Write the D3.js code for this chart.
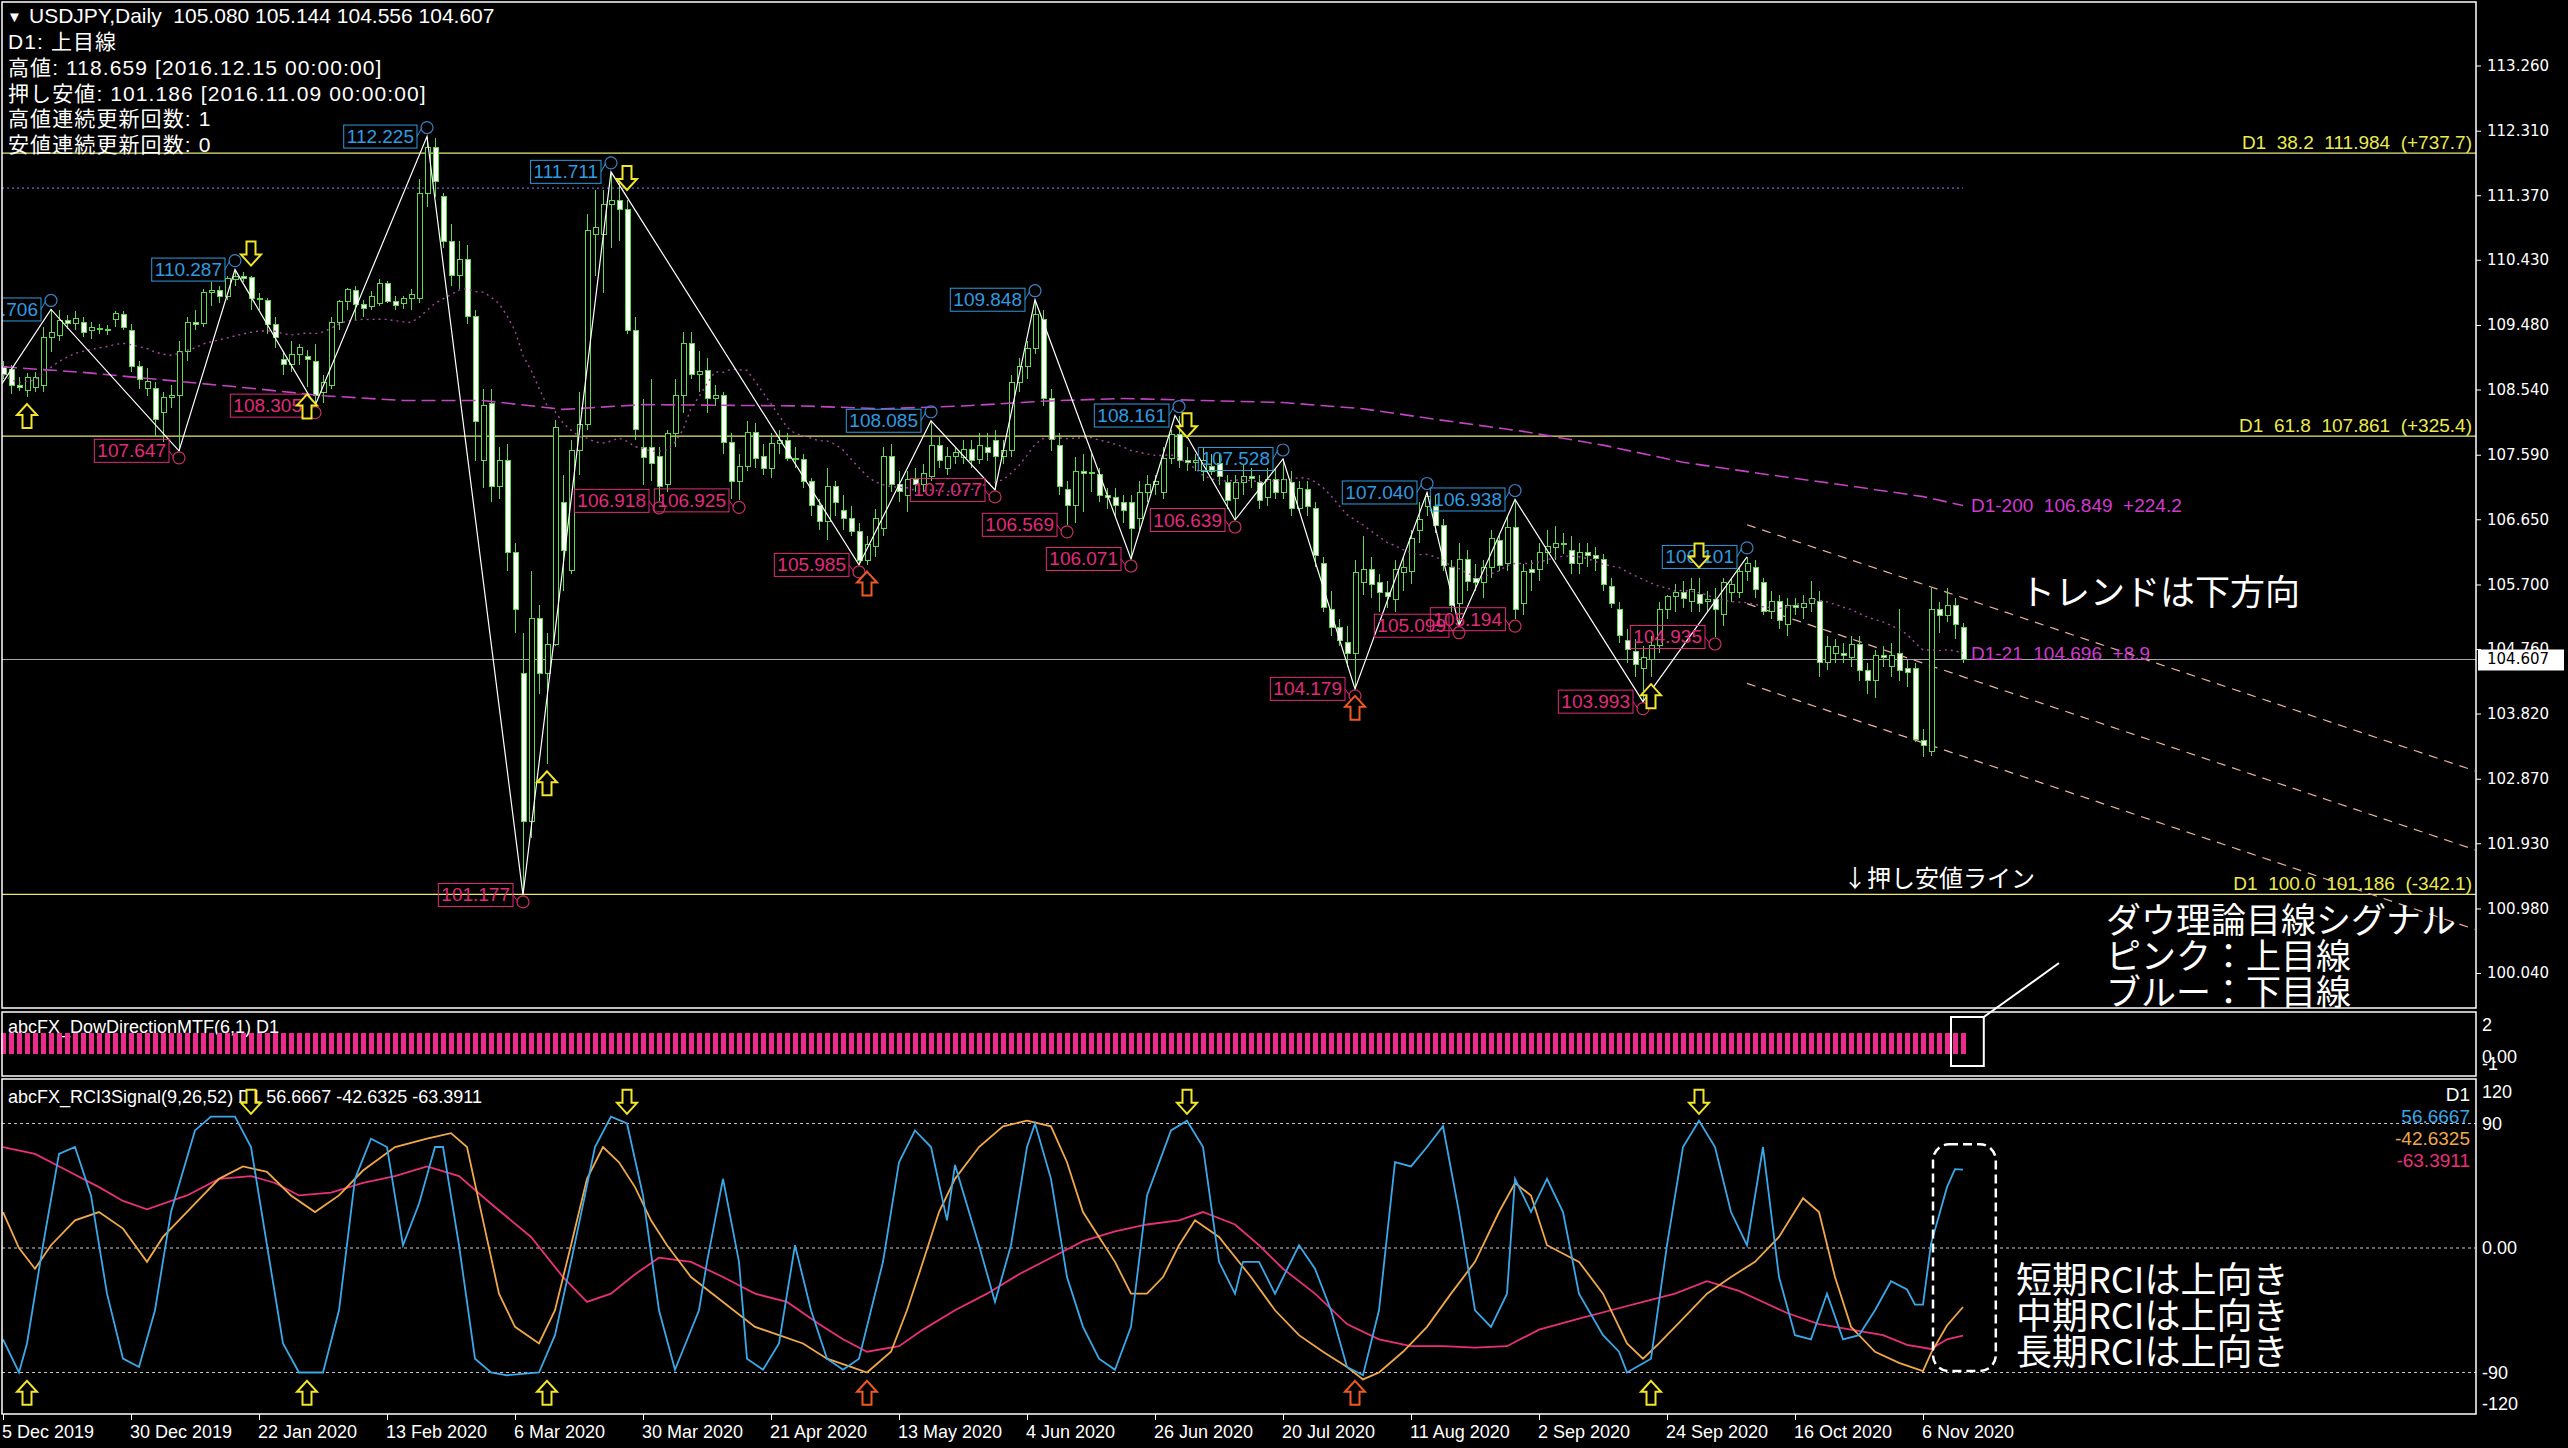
<!DOCTYPE html>
<html>
<head>
<meta charset="utf-8">
<title>USDJPY Daily</title>
<script src="https://cdn.jsdelivr.net/npm/d3@7"></script>
<style>
  html, body { margin: 0; padding: 0; background: #000; }
  svg { display: block; }
</style>
</head>
<body>
<script>
// ---- header text ----
var symbolLine = "USDJPY,Daily  105.080 105.144 104.556 104.607";
var infoLines = ["D1: 上目線", "高値: 118.659 [2016.12.15 00:00:00]", "押し安値: 101.186 [2016.11.09 00:00:00]",
                 "高値連続更新回数: 1", "安値連続更新回数: 0"];

// ---- axes ----
var priceTicks = [113.260, 112.310, 111.370, 110.430, 109.480, 108.540, 107.590, 106.650,
                  105.700, 104.760, 103.820, 102.870, 101.930, 100.980, 100.040];
var dateTickIdx = [0, 16, 32, 48, 64, 80, 96, 112, 128, 144, 160, 176, 192, 208, 224, 240];
var dateLabels = ["5 Dec 2019", "30 Dec 2019", "22 Jan 2020", "13 Feb 2020", "6 Mar 2020", "30 Mar 2020",
                  "21 Apr 2020", "13 May 2020", "4 Jun 2020", "26 Jun 2020", "20 Jul 2020", "11 Aug 2020",
                  "2 Sep 2020", "24 Sep 2020", "16 Oct 2020", "6 Nov 2020"];
var rciTicks = [120, 90, 0, -90, -120];
var rciTickLabels = ["120", "90", "0.00", "-90", "-120"];
var dowTicks = [2, 0, -1];
var dowTickLabels = ["2", "0.00", "-1"];

// ---- daily candles (bar 0 = 5 Dec 2019) ----
var opens = [
108.88,108.83,108.60,108.53,108.57,108.60,109.30,109.33,109.55,109.50,
109.52,109.40,109.42,109.41,109.56,109.63,109.40,108.87,108.55,108.56,
108.20,108.43,108.45,109.10,109.52,109.50,109.95,109.98,109.90,110.14,
110.18,110.17,109.86,109.84,109.48,108.98,108.90,109.05,109.02,108.95,
108.50,108.60,109.52,109.82,109.98,109.78,109.75,109.80,110.08,109.82,
109.80,109.86,109.86,111.39,112.07,111.35,110.70,110.20,110.43,109.60,
107.50,108.34,107.12,107.50,106.17,104.40,102.24,105.21,104.41,104.83,
106.89,105.90,107.65,108.03,110.80,110.80,111.23,111.30,111.16,109.40,
107.70,107.70,107.57,107.15,107.90,108.45,109.21,108.76,108.81,108.41,
108.45,107.77,107.20,107.42,107.92,107.57,107.39,107.76,107.80,107.54,
107.52,107.20,106.85,106.62,107.12,106.78,106.66,106.47,106.05,106.25,
106.51,107.57,107.15,107.00,107.23,107.15,107.27,107.73,107.39,107.57,
107.55,107.66,107.52,107.70,107.80,107.57,107.65,108.64,108.87,109.14,
109.56,108.41,107.73,107.08,106.85,107.35,107.32,107.30,107.00,106.96,
106.89,106.89,106.66,107.04,107.16,107.04,107.54,107.88,107.50,107.48,
107.35,107.42,107.46,107.19,106.95,107.19,107.27,107.19,106.96,107.23,
107.04,107.19,106.81,107.09,106.81,106.00,105.34,105.08,104.86,104.70,
105.73,105.92,105.73,105.59,105.48,105.87,105.89,106.48,106.84,106.84,
106.56,105.95,105.42,106.06,105.78,105.73,105.95,106.34,106.00,106.53,
105.42,105.92,105.92,106.17,106.24,106.30,106.20,106.00,106.17,106.12,
106.06,105.67,105.34,104.89,104.72,104.47,104.61,104.81,105.34,105.53,
105.58,105.45,105.56,105.45,105.48,105.26,105.59,105.59,105.89,105.95,
105.73,105.31,105.45,105.12,105.39,105.36,105.42,105.45,104.56,104.70,
104.70,104.64,104.83,104.44,104.30,104.67,104.50,104.70,104.47,104.47,
103.42,103.27,105.34,105.25,105.39,105.080];
var highs = [
108.95,108.90,108.72,108.78,108.80,109.45,109.706,109.70,109.62,109.68,
109.60,109.52,109.50,109.48,109.68,109.68,109.50,108.95,108.85,108.65,
108.50,108.60,109.25,109.60,109.70,110.00,110.10,110.05,110.20,110.287,
110.25,110.20,109.95,109.88,109.60,109.10,109.25,109.20,109.12,109.20,
108.75,109.60,109.85,110.02,110.05,109.85,109.98,110.15,110.12,109.90,
109.90,110.00,111.60,112.225,112.20,111.40,110.95,110.70,110.65,109.70,
108.55,108.55,107.70,107.75,106.30,105.00,105.90,105.40,105.00,108.10,
107.30,107.80,108.50,111.10,111.45,111.45,111.711,111.60,111.30,109.60,
108.40,108.70,107.70,107.95,108.70,109.38,109.38,109.10,109.00,108.60,
108.50,107.90,107.60,108.08,108.05,107.75,107.90,107.95,107.90,107.70,
107.60,107.25,106.95,107.40,107.20,107.00,106.85,106.60,106.40,106.80,
107.70,107.75,107.35,107.35,107.40,107.45,108.085,107.85,107.70,107.70,
107.80,107.80,107.90,107.90,107.95,107.80,108.75,109.00,109.25,109.848,
109.70,108.55,107.90,107.20,107.55,107.60,107.60,107.40,107.10,107.10,
107.00,107.00,107.20,107.30,107.30,107.70,107.95,108.161,107.70,107.60,
107.70,107.60,107.60,107.30,107.30,107.45,107.40,107.30,107.40,107.40,
107.528,107.35,107.20,107.20,106.90,106.10,105.60,105.20,105.10,106.05,
106.40,106.10,105.85,105.75,106.05,106.10,106.50,106.90,107.04,107.00,
106.65,106.05,106.30,106.20,106.00,106.05,106.50,106.45,106.70,106.938,
106.00,106.05,106.30,106.50,106.55,106.45,106.40,106.30,106.30,106.25,
106.15,105.80,105.45,105.05,104.90,104.80,104.95,105.45,105.55,105.70,
105.75,105.80,105.80,105.60,105.65,105.80,105.80,105.95,106.101,106.05,
105.80,105.60,105.55,105.50,105.50,105.55,105.75,105.60,104.95,104.90,
104.85,104.95,104.95,104.55,104.75,104.80,104.85,105.34,104.60,104.55,
103.60,105.65,105.45,105.65,105.50,105.144];
var lows = [
108.70,108.48,108.52,108.43,108.50,108.50,109.08,109.25,109.42,109.40,
109.30,109.28,109.35,109.34,109.45,109.40,108.80,108.55,108.45,107.85,
107.77,108.27,107.647,108.95,109.40,109.45,109.75,109.80,109.85,110.05,
110.10,109.70,109.70,109.35,109.15,108.75,108.80,108.90,108.57,108.305,
108.35,108.55,109.40,109.70,109.55,109.60,109.70,109.75,109.80,109.70,
109.72,109.70,109.80,111.20,111.35,110.60,110.05,110.00,109.50,107.50,
107.10,106.90,106.95,105.90,105.00,101.177,102.00,104.10,103.08,104.80,
105.60,105.85,107.30,107.95,110.20,109.95,110.60,110.70,109.35,107.80,
107.15,107.20,106.918,107.05,107.70,108.20,108.70,108.50,108.20,108.30,
107.60,106.95,106.925,107.35,107.40,107.30,107.25,107.60,107.50,107.40,
107.10,106.70,106.50,106.35,106.70,106.50,106.40,105.985,105.99,106.10,
106.40,107.05,106.90,106.75,107.05,107.05,107.20,107.40,107.30,107.45,
107.45,107.40,107.45,107.50,107.077,107.45,107.55,108.50,108.70,109.05,
108.30,107.65,107.00,106.569,106.60,106.75,107.05,106.90,106.80,106.70,
106.60,106.071,106.50,106.90,107.00,106.95,107.45,107.40,107.35,107.35,
107.20,107.30,107.15,106.80,106.639,107.00,107.10,106.80,106.85,106.95,
106.95,106.70,106.75,106.70,105.95,105.30,104.95,104.80,104.50,104.179,
105.55,105.50,105.30,105.35,105.30,105.60,105.70,106.30,106.70,106.45,
105.90,105.30,105.099,105.60,105.60,105.50,105.80,105.90,105.90,105.194,
105.25,105.60,105.75,106.00,106.05,106.15,105.85,105.85,105.95,105.90,
105.60,105.35,104.85,104.55,104.35,103.993,104.35,104.70,105.20,105.30,
105.35,105.30,105.30,105.30,104.935,105.10,105.45,105.50,105.75,105.50,
105.25,105.20,105.05,104.95,105.25,105.20,105.30,104.35,104.45,104.55,
104.55,104.50,104.30,104.10,104.05,104.50,104.35,104.30,104.20,103.40,
103.18,103.20,105.00,105.15,104.90,104.556];
var closes = [
108.76,108.60,108.57,108.72,108.72,109.30,109.37,109.55,109.50,109.58,
109.37,109.45,109.43,109.40,109.64,109.44,108.87,108.68,108.66,108.11,
108.43,108.45,109.10,109.52,109.48,109.95,109.98,109.90,110.15,110.18,
110.15,109.86,109.85,109.48,109.30,108.90,109.05,109.15,108.98,108.45,
108.64,109.52,109.82,110.00,109.78,109.72,109.90,110.08,109.82,109.76,
109.86,109.92,111.39,112.07,111.57,110.70,110.20,110.43,109.60,108.07,
108.30,107.12,107.50,106.17,105.33,102.24,105.21,104.41,104.83,107.99,
106.20,107.65,108.03,110.85,110.90,111.23,111.30,111.16,109.40,107.96,
107.55,107.46,107.12,107.90,108.45,109.21,108.76,108.80,108.41,108.45,
107.77,107.20,107.42,107.92,107.54,107.39,107.76,107.80,107.54,107.52,
107.20,106.85,106.62,107.12,106.89,106.66,106.47,106.05,106.28,106.66,
107.57,107.15,107.05,107.23,107.15,107.31,107.73,107.50,107.57,107.62,
107.66,107.50,107.73,107.62,107.57,107.65,108.64,108.87,109.14,109.63,
108.41,107.81,107.12,106.85,107.35,107.32,107.33,107.00,106.96,106.85,
106.78,106.51,107.04,107.16,107.20,107.54,107.88,107.50,107.48,107.50,
107.50,107.35,107.27,106.93,107.19,107.27,107.25,106.93,107.23,107.04,
107.23,106.81,107.10,106.84,106.12,105.36,105.08,104.89,104.70,105.87,
105.92,105.70,105.59,105.53,105.92,105.95,106.37,106.64,106.98,106.56,
105.98,105.39,106.06,105.75,105.73,105.95,106.37,105.98,106.53,105.34,
105.89,105.87,106.17,106.25,106.30,106.28,106.00,106.17,106.12,106.08,
105.70,105.42,104.95,104.75,104.53,104.64,104.81,105.34,105.53,105.58,
105.50,105.62,105.42,105.48,105.34,105.73,105.70,105.89,106.00,105.62,
105.31,105.45,105.17,105.39,105.36,105.42,105.50,104.56,104.80,104.80,
104.67,104.83,104.44,104.30,104.67,104.64,104.67,104.44,104.42,103.44,
103.36,105.34,105.25,105.39,105.12,104.607];

// 200-day MA [bar, price]
var ma200Pts = [[0,108.87],[10,108.79],[20,108.68],[30,108.57],[40,108.45],[50,108.38],[60,108.38],
                [70,108.25],[80,108.32],[90,108.31],[100,108.30],[110,108.26],[120,108.30],[130,108.37],
                [140,108.41],[150,108.38],[160,108.35],[170,108.26],[180,108.09],[190,107.93],[200,107.73],
                [210,107.48],[220,107.31],[230,107.15],[240,106.98],[245,106.85]];
var ma21Period = 21;

// zigzag swing points [bar, price]
var zigzag = [[-1,108.47],[6,109.706],[22,107.647],[29,110.287],[39,108.305],[53,112.225],[65,101.177],
              [76,111.711],[107,105.985],[116,108.085],[124,107.077],[129,109.848],[141,106.071],
              [146.5,108.161],[154,106.639],[160,107.528],[169,104.179],[178,107.040],[182,105.099],
              [189,106.938],[205,103.993],[218,106.101]];
var swingHighs = [[6,109.706],[29,110.287],[53,112.225],[76,111.711],[116,108.085],[129,109.848],
                  [147,108.161],[160,107.528],[178,107.040],[189,106.938],[218,106.101]];
var swingLows = [[22,107.647],[39,108.305],[65,101.177],[82,106.918],[92,106.925],[107,105.985],
                 [124,107.077],[133,106.569],[141,106.071],[154,106.639],[169,104.179],[182,105.099],
                 [189,105.194],[205,103.993],[214,104.935]];

// signal arrows
var upArrows = [[3,"y"],[38,"y"],[68,"y"],[108,"o"],[169,"o"],[206,"y"]];
var downArrows = [[31,"y"],[78,"y"],[148,"y"],[212,"y"]];

// fibonacci / level lines
var fibLevels = [111.984, 107.861, 101.186];
var fibLabels = ["D1  38.2  111.984  (+737.7)", "D1  61.8  107.861  (+325.4)", "D1  100.0  101.186  (-342.1)"];
var prevHighLevel = 111.475;
var lastPrice = 104.607;

// downward channel: start bar, prices at start bar, slope per bar
var channelStart = 218;
var channelPrices = [106.57, 105.42, 104.26];
var channelSlope = -0.0394;

// Dow direction (runs of bars: from, to, direction)
var dowRuns = [[0, 245, 1]];

// RCI lines [bar, value]
var rciShort = [[0,-66],[2,-90],[3,-69],[5,2],[7,68],[9,73],[11,38],[13,-33],[15,-80],[17,-86],[19,-45],
  [21,26],[24,85],[26,95],[29,95],[31,73],[33,2],[35,-69],[37,-90],[40,-90],[42,-45],[44,50],[46,79],
  [48,73],[50,2],[52,32],[54,73],[55,73],[57,2],[59,-80],[61,-90],[63,-92],[67,-90],[69,-63],[71,-10],
  [74,73],[76,95],[78,90],[80,38],[82,-45],[84,-88],[87,-45],[88,-10],[90,50],[92,-10],[93,-80],[95,-88],
  [97,-69],[99,2],[101,-45],[103,-80],[105,-88],[107,-80],[110,-10],[112,62],[114,85],[116,73],[118,20],
  [119,60],[122,2],[124,-39],[126,2],[128,73],[129,90],[131,50],[133,-21],[135,-57],[137,-80],[139,-88],
  [141,-57],[143,38],[146,85],[148,92],[150,73],[152,-10],[154,-33],[155,-10],[157,-10],[159,-33],[162,2],
  [164,-15],[166,-45],[168,-86],[170,-92],[172,-45],[174,62],[176,59],[178,73],[180,88],[182,26],[184,-45],
  [186,-57],[188,-33],[189,50],[191,26],[193,50],[195,26],[197,-33],[200,-63],[202,-75],[203,-90],[206,-80],
  [208,2],[210,73],[212,92],[214,73],[216,26],[218,2],[220,73],[222,-21],[224,-63],[226,-66],[228,-33],
  [230,-66],[232,-63],[234,-45],[236,-24],[238,-30],[239,-41],[240,-41],[241,3],[243,44],[244,57],[245,56.67]];
var rciMid = [[0,26],[2,0],[4,-15],[6,2],[9,20],[12,26],[15,14],[18,-10],[20,8],[24,32],[27,50],[30,59],
  [33,55],[36,38],[39,26],[42,38],[45,56],[49,73],[53,79],[56,83],[58,73],[60,20],[62,-33],[64,-57],[67,-69],
  [69,-45],[71,2],[73,50],[75,73],[77,62],[79,44],[81,20],[83,2],[86,-21],[90,-39],[94,-57],[97,-63],
  [100,-69],[103,-80],[106,-86],[108,-90],[111,-75],[113,-45],[115,-10],[117,26],[119,50],[122,73],[125,88],
  [128,92],[131,88],[133,62],[135,26],[137,8],[139,-10],[141,-33],[143,-33],[145,-21],[147,2],[149,20],
  [152,8],[156,-21],[159,-45],[162,-63],[165,-75],[168,-86],[170,-95],[172,-90],[175,-75],[178,-57],
  [181,-33],[184,-10],[187,26],[189,47],[191,38],[193,2],[197,-10],[200,-33],[203,-69],[205,-80],[207,-69],
  [210,-51],[213,-33],[216,-21],[219,-10],[222,8],[225,36],[227,26],[229,-21],[231,-57],[234,-75],[237,-83],
  [240,-89],[241,-76],[243,-56],[245,-42.63]];
var rciLong = [[0,73],[4,68],[8,56],[12,44],[15,34],[18,28],[23,38],[27,50],[31,52],[34,47],[37,38],[41,40],
  [45,47],[49,52],[53,59],[57,52],[61,32],[66,8],[70,-21],[73,-39],[76,-33],[79,-19],[82,-7],[86,-10],
  [90,-21],[94,-33],[98,-39],[102,-55],[105,-66],[108,-75],[112,-71],[115,-59],[119,-45],[123,-33],
  [127,-19],[131,-7],[135,5],[139,12],[143,17],[147,20],[150,26],[154,17],[157,2],[160,-15],[164,-33],
  [168,-55],[172,-66],[176,-71],[180,-71],[184,-72],[188,-71],[192,-59],[197,-51],[201,-45],[205,-39],
  [209,-33],[213,-24],[217,-31],[220,-39],[223,-47],[227,-55],[231,-59],[235,-63],[238,-70],[241,-73],
  [243,-66],[245,-63.39]];
var rciLegend = ["D1", "56.6667", "-42.6325", "-63.3911"];

function init(){
    var W = 2568, H = 1448;
    var font = "'Liberation Sans', 'Noto Sans CJK JP', sans-serif";
    var jpFont = "'Noto Sans CJK JP', sans-serif";
    var green = "#62d84e";
    var yellow = "#f2e62a";
    var orange = "#f05a22";
    var blueLbl = "#2f9be0";
    var pinkLbl = "#e02b7c";

    var main = {left: 2, right: 2476, top: 2, bottom: 1008};
    var dowP = {top: 1012, bottom: 1076};
    var rciP = {top: 1079, bottom: 1414};

    var x = d3.scaleLinear().domain([0, 309]).range([3, 2475]); // 8 px per bar
    var y = d3.scaleLinear().domain([113.26, 100.04]).range([65.5, 973]);
    var yRci = d3.scaleLinear().domain([120, -120]).range([1082, 1414]);
    var yDow = d3.scaleLinear().domain([-1, 2]).range([1075, 1012]);

    var svg = d3.select("body").append("svg")
                .attr("width", W)
                .attr("height", H)
                .style("background", "#000");

    var defs = svg.append("defs");
    defs.append("clipPath").attr("id", "clipMain").append("rect")
        .attr("x", main.left).attr("y", main.top)
        .attr("width", main.right - main.left).attr("height", main.bottom - main.top);
    defs.append("clipPath").attr("id", "clipRci").append("rect")
        .attr("x", main.left).attr("y", rciP.top)
        .attr("width", main.right - main.left).attr("height", rciP.bottom - rciP.top);

    var bars = d3.range(closes.length);

    // ---------- main panel ----------
    var g = svg.append("g").attr("clip-path", "url(#clipMain)");

    // fib levels
    g.selectAll(".fib").data(fibLevels).enter().append("line")
        .attr("x1", main.left).attr("x2", main.right)
        .attr("y1", function(d){ return y(d); }).attr("y2", function(d){ return y(d); })
        .attr("stroke", "#e8e870").attr("stroke-width", 1.2);

    // previous high dotted line
    g.append("line")
        .attr("x1", main.left).attr("x2", x(closes.length - 1))
        .attr("y1", y(prevHighLevel)).attr("y2", y(prevHighLevel))
        .attr("stroke", "#6a6ad8").attr("stroke-width", 1.2).attr("stroke-dasharray", "2,3");

    // current price line
    g.append("line")
        .attr("x1", main.left).attr("x2", main.right)
        .attr("y1", y(lastPrice)).attr("y2", y(lastPrice))
        .attr("stroke", "#a8a8a8").attr("stroke-width", 1);

    // channel
    var chEnd = 309;
    g.selectAll(".chan").data(channelPrices).enter().append("line")
        .attr("x1", x(channelStart)).attr("x2", x(chEnd))
        .attr("y1", function(d){ return y(d); })
        .attr("y2", function(d){ return y(d + channelSlope * (chEnd - channelStart)); })
        .attr("stroke", "#e8b4a0").attr("stroke-width", 1.2).attr("stroke-dasharray", "9,7");

    // candles
    var cg = g.append("g").attr("shape-rendering", "crispEdges");
    cg.selectAll(".wick").data(bars).enter().append("line")
        .attr("x1", function(i){ return Math.round(x(i)) + 0.5; })
        .attr("x2", function(i){ return Math.round(x(i)) + 0.5; })
        .attr("y1", function(i){ return y(highs[i]); })
        .attr("y2", function(i){ return y(lows[i]); })
        .attr("stroke", green).attr("stroke-width", 1);
    cg.selectAll(".body").data(bars).enter().append("rect")
        .attr("x", function(i){ return Math.round(x(i)) - 2; })
        .attr("width", 5)
        .attr("y", function(i){ return y(Math.max(opens[i], closes[i])); })
        .attr("height", function(i){ return Math.max(1, Math.abs(y(opens[i]) - y(closes[i]))); })
        .attr("fill", function(i){ return closes[i] >= opens[i] ? "#000" : "#f8fff4"; })
        .attr("stroke", green).attr("stroke-width", 1);

    // moving averages
    var ma21 = bars.map(function(i){
        var from = Math.max(0, i - ma21Period + 1);
        return d3.mean(closes.slice(from, i + 1));
    });
    g.append("path")
        .attr("d", d3.line().x(function(d){ return x(d[0]); }).y(function(d){ return y(d[1]); })(ma200Pts))
        .attr("fill", "none").attr("stroke", "#c444c4").attr("stroke-width", 1.6).attr("stroke-dasharray", "14,6");
    g.append("path")
        .attr("d", d3.line().x(function(d, i){ return x(i); }).y(function(d){ return y(d); })(ma21))
        .attr("fill", "none").attr("stroke", "#a648a6").attr("stroke-width", 1.4).attr("stroke-dasharray", "2,4");

    // zigzag
    g.append("path")
        .attr("d", d3.line().x(function(d){ return x(d[0]); }).y(function(d){ return y(d[1]); })(zigzag))
        .attr("fill", "none").attr("stroke", "#ffffff").attr("stroke-width", 1.2);

    // swing labels
    function swingLabel(d, isHigh){
        var col = isHigh ? blueLbl : pinkLbl;
        var cx = x(d[0]);
        var cy = y(d[1]) + (isHigh ? -9 : 7);
        var lg = g.append("g");
        var t = lg.append("text")
            .attr("x", cx - 13).attr("y", y(d[1]))
            .attr("text-anchor", "end").attr("dominant-baseline", "central")
            .attr("font-family", font).attr("font-size", 19).attr("fill", col)
            .text(d3.format(".3f")(d[1]));
        var bb = t.node().getBBox();
        lg.insert("rect", "text")
            .attr("x", bb.x - 3).attr("y", bb.y - 1)
            .attr("width", bb.width + 6).attr("height", bb.height + 2)
            .attr("fill", "none").attr("stroke", col).attr("stroke-width", 1);
        lg.append("line")
            .attr("x1", cx - 10).attr("x2", cx - 5)
            .attr("y1", y(d[1])).attr("y2", cy)
            .attr("stroke", col).attr("stroke-width", 1);
        lg.append("circle").attr("cx", cx).attr("cy", cy).attr("r", 6)
            .attr("fill", "none").attr("stroke", isHigh ? "#3c7fc0" : "#c83060").attr("stroke-width", 1.2);
    }
    swingHighs.forEach(function(d){ swingLabel(d, true); });
    swingLows.forEach(function(d){ swingLabel(d, false); });

    // arrows
    function arrowPath(cx, tip, up){
        var s = up ? 1 : -1;
        var pts = [[0,0],[10,11],[4.5,11],[4.5,24],[-4.5,24],[-4.5,11],[-10,11]];
        return "M" + pts.map(function(p){ return (cx + p[0]) + "," + (tip + s * p[1]); }).join("L") + "Z";
    }
    function arrowColor(c){ return c === "o" ? orange : yellow; }
    g.selectAll(".upA").data(upArrows).enter().append("path")
        .attr("d", function(d){ return arrowPath(x(d[0]), y(lows[d[0]]) + 7, true); })
        .attr("fill", "#000").attr("stroke", function(d){ return arrowColor(d[1]); }).attr("stroke-width", 2);
    g.selectAll(".dnA").data(downArrows).enter().append("path")
        .attr("d", function(d){ return arrowPath(x(d[0]), y(highs[d[0]]) - 10, false); })
        .attr("fill", "#000").attr("stroke", function(d){ return arrowColor(d[1]); }).attr("stroke-width", 2);

    // MA value labels
    var last = closes.length - 1;
    g.append("text").attr("x", x(last) + 8).attr("y", y(106.849))
        .attr("dominant-baseline", "central").attr("font-family", font).attr("font-size", 19)
        .attr("fill", "#d03ad0").attr("xml:space", "preserve").text("D1-200  106.849  +224.2");
    g.append("text").attr("x", x(last) + 8).attr("y", y(104.696))
        .attr("dominant-baseline", "central").attr("font-family", font).attr("font-size", 19)
        .attr("fill", "#d03ad0").attr("xml:space", "preserve").text("D1-21  104.696  +8.9");

    // fib labels
    g.selectAll(".fibT").data(fibLevels).enter().append("text")
        .attr("x", main.right - 4).attr("y", function(d){ return y(d) - 4; })
        .attr("text-anchor", "end").attr("font-family", font).attr("font-size", 19)
        .attr("fill", "#eaea50").attr("xml:space", "preserve")
        .text(function(d, i){ return fibLabels[i]; });

    // annotations
    g.append("text").attr("x", 2020).attr("y", y(105.63))
        .attr("dominant-baseline", "central").attr("font-family", jpFont).attr("font-size", 35)
        .attr("fill", "#fff").text("トレンドは下方向");
    g.append("text").attr("x", 1843).attr("y", y(101.45))
        .attr("dominant-baseline", "central").attr("font-family", jpFont).attr("font-size", 24)
        .attr("fill", "#fff").text("↓押し安値ライン");
    var sig = ["ダウ理論目線シグナル", "ピンク：上目線", "ブルー：下目線"];
    g.selectAll(".sig").data(sig).enter().append("text")
        .attr("x", 2106).attr("y", function(d, i){ return 917 + i * 36; })
        .attr("dominant-baseline", "central").attr("font-family", jpFont).attr("font-size", 35)
        .attr("fill", "#fff").text(function(d){ return d; });

    // header info
    var info = svg.append("g").attr("font-family", font).attr("font-size", 21).attr("fill", "#fff");
    info.append("text").attr("x", 7).attr("y", 22).attr("font-size", 15).text("▼");
    info.append("text").attr("x", 29).attr("y", 23).attr("xml:space", "preserve").text(symbolLine);
    info.selectAll(".il").data(infoLines).enter().append("text")
        .attr("x", 8).attr("y", function(d, i){ return 49 + i * 25.8; })
        .attr("letter-spacing", 1.1)
        .text(function(d){ return d; });

    // price axis
    var ax = svg.append("g").attr("transform", "translate(" + main.right + ",0)")
        .call(d3.axisRight(y).tickValues(priceTicks).tickFormat(d3.format(".3f")).tickSize(5).tickPadding(6));
    ax.select(".domain").remove();
    ax.selectAll("line").attr("stroke", "#fff");
    ax.selectAll("text").attr("fill", "#fff").attr("font-family", "'DejaVu Sans', sans-serif").attr("font-size", 15);

    // current price box
    svg.append("rect").attr("x", main.right + 2).attr("y", y(lastPrice) - 10)
        .attr("width", 86).attr("height", 21).attr("fill", "#fff");
    svg.append("text").attr("x", main.right + 11).attr("y", y(lastPrice))
        .attr("dominant-baseline", "central").attr("font-family", "'DejaVu Sans', sans-serif").attr("font-size", 15)
        .attr("fill", "#000").text(d3.format(".3f")(lastPrice));

    // ---------- Dow direction panel ----------
    var dowBars = [];
    dowRuns.forEach(function(r){ d3.range(r[0], r[1] + 1).forEach(function(i){ dowBars.push([i, r[2]]); }); });
    svg.append("text").attr("x", 8).attr("y", 1027).attr("dominant-baseline", "central")
        .attr("font-family", font).attr("font-size", 18).attr("fill", "#fff").text("abcFX_DowDirectionMTF(6,1) D1");
    svg.append("g").attr("shape-rendering", "crispEdges").selectAll("rect").data(dowBars).enter().append("rect")
        .attr("x", function(d){ return Math.round(x(d[0])) - 2; })
        .attr("width", 5)
        .attr("y", function(d){ return Math.min(yDow(0), yDow(d[1])); })
        .attr("height", function(d){ return Math.abs(yDow(0) - yDow(d[1])); })
        .attr("fill", function(d){ return d[1] > 0 ? "#ee2b8d" : "#2f9be0"; });
    svg.selectAll(".dowT").data(dowTicks).enter().append("text")
        .attr("x", main.right + 6)
        .attr("y", function(d){ return Math.max(dowP.top + 13, Math.min(dowP.bottom - 12, yDow(d) + 3)); })
        .attr("dominant-baseline", "central").attr("font-family", font).attr("font-size", 18).attr("fill", "#fff")
        .text(function(d, i){ return dowTickLabels[i]; });

    // signal box + pointer line
    var sbX1 = x(243.5), sbX2 = x(247.6);
    svg.append("rect").attr("x", sbX1).attr("y", dowP.top + 5)
        .attr("width", sbX2 - sbX1).attr("height", dowP.bottom - dowP.top - 15)
        .attr("fill", "none").attr("stroke", "#fff").attr("stroke-width", 2);
    svg.append("line").attr("x1", sbX2).attr("y1", dowP.top + 5).attr("x2", x(257)).attr("y2", y(100.185))
        .attr("stroke", "#fff").attr("stroke-width", 2);

    // ---------- RCI panel ----------
    svg.append("text").attr("x", 8).attr("y", 1097).attr("dominant-baseline", "central")
        .attr("font-family", font).attr("font-size", 18).attr("fill", "#fff")
        .text("abcFX_RCI3Signal(9,26,52) D1 56.6667 -42.6325 -63.3911");
    var rg = svg.append("g").attr("clip-path", "url(#clipRci)");
    rg.selectAll(".lvl").data([90, 0, -90]).enter().append("line")
        .attr("x1", main.left).attr("x2", main.right)
        .attr("y1", function(d){ return yRci(d); }).attr("y2", function(d){ return yRci(d); })
        .attr("stroke", "#c8c8c8").attr("stroke-width", 1).attr("stroke-dasharray", "3,3");
    var rciLine = d3.line().x(function(d){ return x(d[0]); }).y(function(d){ return yRci(d[1]); });
    [[rciLong, "#e8307a"], [rciMid, "#f0a848"], [rciShort, "#3aa8e8"]].forEach(function(s){
        rg.append("path").attr("d", rciLine(s[0])).attr("fill", "none")
            .attr("stroke", s[1]).attr("stroke-width", 1.8);
    });
    rg.selectAll(".rUp").data(upArrows).enter().append("path")
        .attr("d", function(d){ return arrowPath(x(d[0]), yRci(-96), true); })
        .attr("fill", "#000").attr("stroke", function(d){ return arrowColor(d[1]); }).attr("stroke-width", 2);
    rg.selectAll(".rDn").data(downArrows).enter().append("path")
        .attr("d", function(d){ return arrowPath(x(d[0]), yRci(97), false); })
        .attr("fill", "#000").attr("stroke", function(d){ return arrowColor(d[1]); }).attr("stroke-width", 2);

    // legend values
    var legCol = ["#fff", "#3aa8e8", "#f0a848", "#e8307a"];
    svg.selectAll(".leg").data(rciLegend).enter().append("text")
        .attr("x", main.right - 6).attr("y", function(d, i){ return 1094 + i * 22; })
        .attr("text-anchor", "end").attr("dominant-baseline", "central")
        .attr("font-family", font).attr("font-size", 19)
        .attr("fill", function(d, i){ return legCol[i]; }).text(function(d){ return d; });

    // dashed rounded box + RCI notes
    rg.append("rect").attr("x", x(241.25)).attr("y", yRci(75))
        .attr("width", x(249.1) - x(241.25)).attr("height", yRci(-89) - yRci(75))
        .attr("rx", 16).attr("fill", "none").attr("stroke", "#fff").attr("stroke-width", 2.5)
        .attr("stroke-dasharray", "9,5");
    var notes = ["短期RCIは上向き", "中期RCIは上向き", "長期RCIは上向き"];
    rg.selectAll(".note").data(notes).enter().append("text")
        .attr("x", 2016).attr("y", function(d, i){ return 1277 + i * 36; })
        .attr("dominant-baseline", "central").attr("font-family", jpFont).attr("font-size", 36)
        .attr("fill", "#fff").text(function(d){ return d; });

    svg.selectAll(".rciT").data(rciTicks).enter().append("text")
        .attr("x", main.right + 6)
        .attr("y", function(d){ return Math.max(rciP.top + 13, Math.min(rciP.bottom - 10, yRci(d))); })
        .attr("dominant-baseline", "central").attr("font-family", font).attr("font-size", 18).attr("fill", "#fff")
        .text(function(d, i){ return rciTickLabels[i]; });

    // ---------- frames ----------
    var frames = [[main.top, main.bottom], [dowP.top, dowP.bottom], [rciP.top, rciP.bottom]];
    svg.selectAll(".frame").data(frames).enter().append("rect")
        .attr("x", main.left).attr("y", function(d){ return d[0]; })
        .attr("width", main.right - main.left).attr("height", function(d){ return d[1] - d[0]; })
        .attr("fill", "none").attr("stroke", "#fff").attr("stroke-width", 1.5);

    // ---------- date axis ----------
    svg.selectAll(".dTick").data(dateTickIdx).enter().append("line")
        .attr("x1", function(d){ return Math.round(x(d)) + 0.5; })
        .attr("x2", function(d){ return Math.round(x(d)) + 0.5; })
        .attr("y1", rciP.bottom).attr("y2", rciP.bottom + 6)
        .attr("stroke", "#fff");
    svg.selectAll(".dLab").data(dateTickIdx).enter().append("text")
        .attr("x", function(d){ return x(d) - 1; }).attr("y", 1438)
        .attr("font-family", font).attr("font-size", 18).attr("fill", "#fff")
        .text(function(d, i){ return dateLabels[i]; });
}
window.onload = init;
</script>
</body>
</html>
